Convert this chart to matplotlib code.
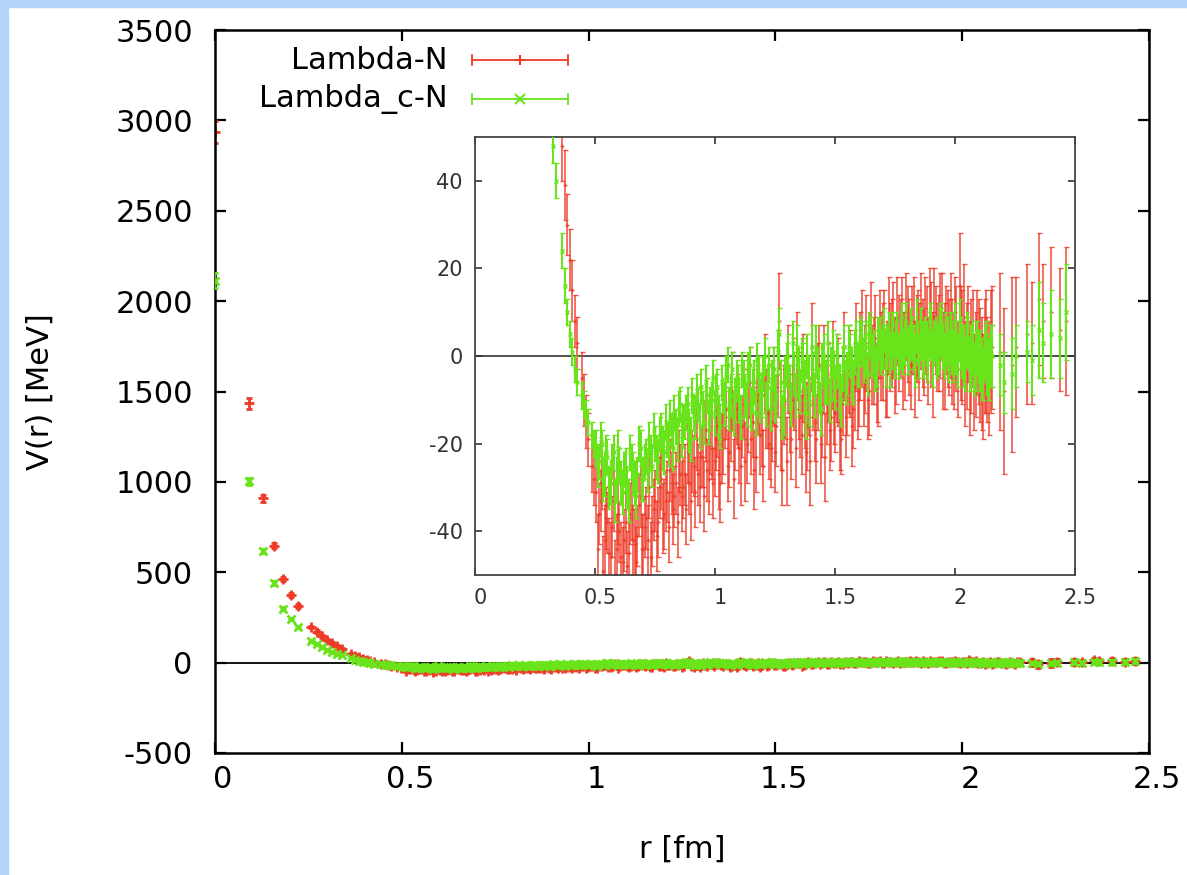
import matplotlib
matplotlib.use("Agg")
import matplotlib.pyplot as plt
from matplotlib.patches import Rectangle
from matplotlib.transforms import ScaledTranslation

# distance r [fm]
r = [0.0, 0.091, 0.128, 0.157, 0.181, 0.203, 0.222, 0.257, 0.272, 0.287,
     0.301, 0.314, 0.327, 0.339, 0.363, 0.374, 0.385, 0.395, 0.406, 0.416,
     0.425, 0.444, 0.454, 0.462, 0.471, 0.488, 0.497,
     0.505, 0.517, 0.529, 0.542, 0.552, 0.566, 0.578, 0.591, 0.602, 0.615,
     0.628, 0.641, 0.653, 0.665, 0.677, 0.690, 0.702, 0.714, 0.726, 0.739,
     0.751, 0.763, 0.776, 0.788, 0.801, 0.813, 0.825, 0.838, 0.850, 0.862,
     0.875, 0.887, 0.899, 0.912, 0.924, 0.936, 0.949, 0.961, 0.973, 0.986,
     0.998, 1.010, 1.022, 1.035, 1.047, 1.059, 1.072, 1.084, 1.096, 1.108,
     1.121, 1.133, 1.145, 1.158, 1.170, 1.182, 1.195, 1.207, 1.219, 1.232,
     1.244, 1.256, 1.268, 1.281, 1.293, 1.305, 1.318, 1.330, 1.342, 1.355,
     1.367, 1.379, 1.391, 1.404, 1.416, 1.428, 1.441, 1.453, 1.465, 1.478,
     1.490, 1.502, 1.514, 1.527, 1.539, 1.551, 1.564, 1.576, 1.588, 1.600,
     1.613, 1.625, 1.637, 1.650, 1.662, 1.674, 1.687, 1.699, 1.711, 1.723,
     1.736, 1.748, 1.760, 1.773, 1.785, 1.797, 1.810, 1.822, 1.834, 1.846,
     1.859, 1.871, 1.883, 1.896, 1.908, 1.920, 1.933, 1.945, 1.957, 1.969,
     1.982, 1.994, 2.006, 2.019, 2.031, 2.043, 2.056, 2.068, 2.080, 2.093,
     2.105, 2.117, 2.129, 2.142, 2.154,
     2.186, 2.203, 2.238, 2.254, 2.298, 2.321, 2.352, 2.367, 2.402, 2.437, 2.463,
     0.511, 0.523, 0.535, 0.547, 0.559, 0.572, 0.584, 0.597, 0.608, 0.621,
     0.634, 0.647, 0.659, 0.671, 0.683, 0.696, 0.708, 0.720, 0.732, 0.745,
     0.757, 0.769, 0.782, 0.794, 0.807, 0.819, 0.831, 0.844, 0.856, 0.868,
     0.881, 0.893, 0.905, 0.918, 0.930, 0.942, 0.955, 0.967, 0.979, 0.992,
     1.004, 1.016, 1.028, 1.041, 1.053, 1.065, 1.078, 1.090, 1.102, 1.114,
     1.127, 1.139, 1.151, 1.164, 1.176, 1.188, 1.201, 1.213, 1.225, 1.238,
     1.250, 1.262, 1.274, 1.287, 1.299, 1.311, 1.324, 1.336, 1.348, 1.361,
     1.373, 1.385, 1.397, 1.410, 1.422, 1.434, 1.447, 1.459, 1.471, 1.484,
     1.496, 1.508, 1.520, 1.533, 1.545, 1.557, 1.570, 1.582, 1.594, 1.606,
     1.619, 1.631, 1.643, 1.656, 1.668, 1.680, 1.693, 1.705, 1.717, 1.729,
     1.742, 1.754, 1.766, 1.779, 1.791, 1.803, 1.816, 1.828, 1.840, 1.852,
     1.865, 1.877, 1.889, 1.902, 1.914, 1.926, 1.939, 1.951, 1.963, 1.975,
     1.988, 2.000, 2.012, 2.025, 2.037, 2.049, 2.062, 2.074, 2.086, 2.099,
     2.111, 2.123, 2.135, 2.148]

# Lambda-N potential [MeV] and errors
v_lam = [2935, 1434, 910, 647, 464, 375, 312, 197, 172, 147,
         125, 106, 90, 74, 48, 39, 30, 22, 15, 8,
         3, -5, -10, -15, -19, -25, -28,
         -31, -36, -29, -42, -38, -46, -33, -44, -40, -47,
         -38, -45, -35, -43, -41, -32, -44, -37, -30, -40,
         -33, -38, -28, -36, -31, -26, -35, -29, -24, -32,
         -27, -22, -33, -25, -19, -30, -23, -17, -28, -21,
         -24, -16, -29, -19, -12, -22, -8, -18, -14, -25,
         -11, -20, -6, -15, -23, -9, -17, -4, -13, -21,
         -7, -16, 8, -26, -10, -3, -19, -8, 0, -14,
         -5, -22, -9, 2, -15, -7, -20, -3, -11, -17,
         -2, -13, -6, -19, 0, -9, -4, -12, 2, -7,
         4, -3, -10, 6, -1, -6, 5, 1, -4, 7,
         3, -2, 8, 4, -1, 9, 2, 6, -3, 5,
         8, 1, 5, 10, -2, 6, 3, 9, 0, 4,
         7, -1, 4, 16, 2, -4, 5, 0, -6, 3,
         -2, -7, 1, -5, 2,
         1, -8, -2, 2, 5, 3, 13, 8, 10, 6, 8,
         -44, -33, -49, -37, -45, -39, -50, -36, -46, -42,
         -48, -36, -42, -47, -34, -44, -39, -42, -46, -35,
         -41, -30, -37, -33, -39, -29, -32, -38, -27, -30,
         -35, -29, -24, -31, -27, -23, -32, -26, -20, -29,
         -19, -27, -21, -14, -25, -17, -28, -12, -21, -16,
         -24, -14, -19, -26, -10, -18, -25, -12, -20, -15,
         -22, -4, -17, -11, -24, -13, -6, -21, -9, -18,
         -12, -16, -24, -8, -19, -2, -13, -23, -6, -14,
         -11, -5, -17, -8, -14, -3, -16, -7, -10, 0,
         -6, 3, -8, -2, 4, -5, 0, 6, -3, 2,
         6, -1, 3, 8, 0, 5, -2, 7, 4, 1,
         3, 7, -1, 5, 9, 2, 7, -1, 6, 2,
         1, 6, -3, 3, 9, 0, -5, 4, -2, 1,
         -4, 0, -3, 1]
e_lam = [60, 30, 20, 15, 12, 10, 10, 8, 8, 8,
         8, 8, 8, 8, 8, 8, 7, 7, 7, 6,
         6, 6, 6, 6, 6, 6, 6,
         7, 7, 6, 8, 7, 8, 7, 8, 7, 8,
         7, 8, 7, 8, 7, 7, 8, 7, 7, 8,
         7, 8, 7, 8, 7, 7, 8, 7, 7, 8,
         7, 7, 9, 7, 7, 8, 7, 7, 8, 7,
         8, 7, 9, 8, 7, 8, 9, 8, 7, 9,
         8, 9, 8, 8, 8, 9, 8, 9, 8, 9,
         9, 9, 11, 8, 9, 10, 9, 9, 10, 9,
         10, 9, 9, 10, 9, 10, 9, 10, 9, 9,
         10, 9, 10, 8, 10, 9, 10, 9, 10, 9,
         11, 10, 9, 11, 10, 9, 10, 11, 10, 11,
         10, 11, 10, 9, 11, 10, 11, 10, 11, 10,
         11, 10, 11, 10, 12, 10, 11, 10, 12, 11,
         12, 11, 12, 12, 13, 12, 11, 13, 11, 12,
         13, 12, 14, 13, 14,
         18, 19, 20, 16, 16, 14, 15, 13, 15, 14, 17,
         8, 7, 8, 7, 8, 7, 8, 7, 8, 7,
         8, 7, 8, 8, 7, 8, 7, 8, 8, 7,
         8, 7, 8, 7, 8, 7, 7, 8, 7, 7,
         8, 7, 7, 8, 7, 7, 8, 7, 7, 8,
         7, 8, 8, 7, 8, 7, 9, 8, 8, 7,
         9, 8, 8, 9, 8, 9, 8, 9, 8, 9,
         9, 10, 9, 9, 10, 9, 10, 9, 10, 9,
         9, 10, 10, 9, 10, 9, 10, 10, 9, 10,
         9, 10, 9, 10, 9, 10, 9, 10, 9, 10,
         10, 11, 10, 9, 10, 11, 10, 9, 11, 10,
         11, 10, 11, 10, 10, 11, 10, 11, 10, 11,
         10, 11, 10, 12, 11, 10, 12, 11, 10, 11,
         12, 12, 11, 13, 12, 12, 13, 11, 12, 12,
         13, 13, 12, 14]

# Lambda_c-N potential [MeV] and errors
v_lamc = [2113, 1003, 617, 440, 297, 241, 195, 120, 102, 86,
          70, 58, 48, 40, 24, 16, 10, 5, 1, -3,
          -6, -9, -11, -13, -15, -18, -20,
          -21, -24, -20, -27, -23, -29, -22, -28, -25, -31,
          -26, -33, -24, -29, -27, -21, -28, -23, -19, -25,
          -20, -24, -17, -22, -19, -14, -21, -16, -12, -18,
          -15, -11, -19, -13, -8, -16, -12, -6, -15, -10,
          -13, -7, -16, -9, -4, -12, -3, -10, -6, -14,
          -5, -11, -2, -8, -13, -4, -9, 0, -7, -12,
          -3, -9, 5, -14, -5, 0, -11, -4, 2, -8,
          -2, -13, -5, 2, -9, -3, -12, 0, -6, -10,
          1, -7, -2, -10, 2, -4, 0, -6, 3, -2,
          3, 0, -4, 4, 1, -2, 4, 2, -1, 5,
          3, 0, 5, 3, 1, 6, 2, 4, -1, 3,
          5, 1, 3, 6, -1, 4, 2, 5, 0, 3,
          4, 0, 2, 6, 1, -2, 3, 0, -3, 2,
          -1, -4, 1, -3, 0,
          -2, -6, -4, 0, 1, -1, 6, 3, 5, 4, 10,
          -25, -19, -28, -22, -30, -24, -33, -21, -29, -26,
          -30, -22, -27, -32, -20, -28, -24, -26, -22, -17,
          -23, -18, -21, -15, -20, -17, -13, -19, -11, -16,
          -13, -17, -9, -14, -11, -7, -15, -9, -12, -5,
          -8, -14, -6, -11, -2, -9, -13, -5, -10, -3,
          -9, -3, -12, -6, -1, -10, -4, -11, -2, -6,
          -10, 1, -6, -12, -2, -7, 3, -9, -4, -1,
          -7, 0, -11, -4, 1, -8, -2, -6, 3, -4,
          -5, 0, -8, -3, -6, 2, -4, 1, -2, 4,
          -1, 2, 5, 0, -3, 3, 1, 6, 2, -1,
          5, 2, 0, 6, 3, 1, 5, 2, 7, 0,
          2, 4, 0, 5, 3, 1, 6, 2, 4, 0,
          2, 5, -1, 3, 0, 4, -2, 2, -1, 0,
          -3, 1, -2, 0]
e_lamc = [40, 20, 12, 10, 8, 7, 6, 5, 5, 5,
          4, 4, 4, 4, 4, 4, 3, 3, 3, 3,
          3, 3, 3, 3, 3, 3, 3,
          4, 4, 3, 5, 4, 5, 4, 5, 4, 5,
          5, 5, 4, 5, 4, 4, 5, 4, 4, 5,
          4, 5, 4, 5, 4, 4, 5, 4, 4, 5,
          4, 4, 5, 4, 4, 5, 4, 4, 5, 4,
          5, 4, 5, 4, 4, 5, 4, 5, 4, 5,
          4, 5, 4, 5, 5, 4, 5, 4, 5, 5,
          5, 5, 6, 5, 5, 5, 5, 5, 5, 5,
          5, 6, 5, 5, 5, 5, 6, 5, 5, 5,
          5, 5, 5, 6, 5, 5, 5, 5, 5, 5,
          5, 5, 5, 5, 5, 5, 5, 5, 6, 5,
          6, 5, 5, 6, 5, 6, 5, 5, 6, 5,
          6, 6, 5, 6, 6, 5, 6, 6, 5, 6,
          6, 6, 6, 7, 6, 6, 6, 7, 6, 6,
          7, 6, 7, 7, 7,
          7, 7, 8, 7, 7, 8, 11, 9, 10, 9, 11,
          5, 4, 5, 4, 5, 4, 5, 4, 5, 4,
          5, 4, 5, 5, 4, 5, 4, 5, 4, 4,
          5, 4, 5, 4, 5, 4, 4, 5, 4, 5,
          4, 5, 4, 5, 4, 4, 5, 4, 5, 4,
          4, 5, 4, 5, 4, 5, 5, 4, 5, 4,
          5, 4, 5, 5, 4, 5, 4, 5, 4, 5,
          5, 5, 5, 6, 5, 5, 5, 5, 6, 5,
          6, 5, 5, 5, 6, 5, 5, 5, 5, 6,
          5, 5, 6, 5, 5, 5, 6, 5, 5, 5,
          5, 6, 5, 5, 5, 6, 5, 5, 5, 6,
          5, 6, 5, 6, 5, 5, 6, 5, 6, 5,
          6, 5, 6, 6, 5, 6, 6, 5, 6, 6,
          6, 7, 6, 6, 7, 6, 6, 6, 7, 6,
          7, 6, 7, 7]

labels = ["Lambda-N", "Lambda_c-N"]
red = "#ee3b28"
green = "#69e41a"

plt.rcParams["font.family"] = ["DejaVu Sans"]
plt.rcParams["axes.unicode_minus"] = False

fig = plt.figure(figsize=(11.87, 8.75), dpi=100)
fig.patch.set_facecolor("white")
blue = "#b3d5f8"
fig.patches.append(Rectangle((0, 0), 8 / 1187, 1, transform=fig.transFigure,
                             color=blue, zorder=-1))
fig.patches.append(Rectangle((0, 1 - 7 / 875), 1, 7 / 875, transform=fig.transFigure,
                             color=blue, zorder=-1))

# main panel
ax = fig.add_axes([215 / 1187, 1 - 753 / 875, 934 / 1187, 723 / 875])
ax.axhline(0, color="black", lw=1.3, zorder=1)
ax.errorbar(r, v_lam, yerr=e_lam, fmt="+", color=red, ecolor=red, ms=7, mew=2,
            elinewidth=1, capsize=2, zorder=2)
ax.errorbar(r, v_lamc, yerr=e_lamc, fmt="x", color=green, ecolor=green, ms=6, mew=2,
            elinewidth=1.2, capsize=2, zorder=3)
ax.set_xlim(0, 2.5)
ax.set_ylim(-500, 3500)
ax.set_xticks([0, 0.5, 1, 1.5, 2, 2.5])
ax.set_xticklabels(["0", "0.5", "1", "1.5", "2", "2.5"])
ax.set_yticks(range(-500, 3501, 500))
ax.tick_params(direction="in", length=8, width=1.6, top=True, right=True,
               labelsize=22, colors="black")
ax.tick_params(axis="y", pad=16)
ax.tick_params(axis="x", pad=9)
for s in ax.spines.values():
    s.set_linewidth(1.8)
off = ScaledTranslation(8 / 100, 0, fig.dpi_scale_trans)
for lab in ax.get_xticklabels():
    lab.set_transform(lab.get_transform() + off)
ax.set_xlabel("r [fm]", fontsize=22)
ax.set_ylabel("V(r) [MeV]", fontsize=22)
ax.xaxis.set_label_coords(0.5, -0.113)
ax.yaxis.set_label_coords(-0.172, 0.5)

# key, gnuplot style
for lab, col, mk, yk in [(labels[0], red, "+", 0.958), (labels[1], green, "x", 0.905)]:
    ax.text(0.249, yk, lab, transform=ax.transAxes, ha="right", va="center", fontsize=22)
    ax.plot([0.275, 0.378], [yk, yk], transform=ax.transAxes, color=col, lw=1.3)
    for xe in (0.275, 0.378):
        ax.plot([xe, xe], [yk - 0.007, yk + 0.007], transform=ax.transAxes, color=col, lw=1.3)
    ax.plot([0.3265], [yk], transform=ax.transAxes, marker=mk, color=col, ms=7, mew=1.5)

# inset
ins = fig.add_axes([475 / 1187, 1 - 575 / 875, 600 / 1187, 438 / 875])
ins.set_facecolor("white")
ins.axhline(0, color="#222222", lw=1.1, zorder=1)
ins.errorbar(r, v_lam, yerr=e_lam, fmt="+", color=red, ecolor=red, ms=3, mew=1,
             elinewidth=1.2, capsize=1.8, alpha=0.85, zorder=2)
ins.errorbar(r, v_lamc, yerr=e_lamc, fmt="x", color=green, ecolor=green, ms=3, mew=1,
             elinewidth=1.5, capsize=1.8, zorder=3)
ins.set_xlim(0, 2.5)
ins.set_ylim(-50, 50)
ins.set_xticks([0, 0.5, 1, 1.5, 2, 2.5])
ins.set_xticklabels(["0", "0.5", "1", "1.5", "2", "2.5"])
ins.set_yticks([-40, -20, 0, 20, 40])
ins.tick_params(direction="in", length=5, width=1.2, top=True, right=True,
                labelsize=15, labelcolor="#333333", color="#333333")
ins.tick_params(axis="y", pad=9)
ins.tick_params(axis="x", pad=9)
for s in ins.spines.values():
    s.set_linewidth(1.3)
    s.set_color("#444444")
off2 = ScaledTranslation(5 / 100, 0, fig.dpi_scale_trans)
for lab in ins.get_xticklabels():
    lab.set_transform(lab.get_transform() + off2)

fig.savefig("out.png", dpi=100, facecolor="white")
